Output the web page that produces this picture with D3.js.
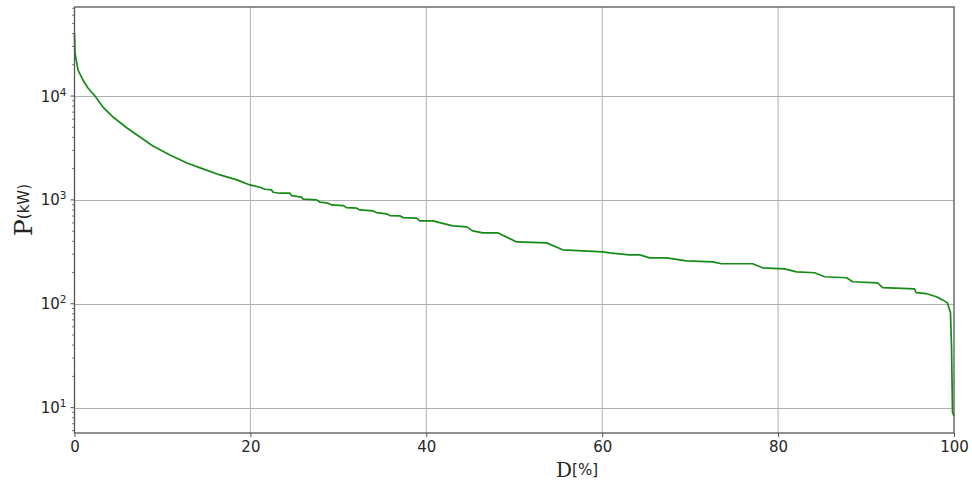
<!DOCTYPE html>
<html>
<head>
<meta charset="utf-8">
<script src="https://cdn.jsdelivr.net/npm/d3@7/dist/d3.min.js"></script>
<style>
  html, body { margin: 0; padding: 0; background: #fff; }
  svg { display: block; }
</style>
</head>
<body>
<svg id="chart" width="972" height="487"></svg>
<script>
// ---- data ----
const durationPct = [0, 0.06, 0.4, 0.97, 1.53, 2.33, 3.24, 4.38, 5.97, 7.44, 8.92, 10.85, 12.78, 14.6, 16.53, 18.47,
  19.94, 21.08, 21.65, 22.41, 22.59, 23.35, 24.49, 24.68, 25.82, 26.0, 27.52, 27.9, 28.84, 29.23, 30.55, 30.93,
  32.07, 32.44, 33.95, 34.34, 35.48, 35.85, 36.99, 37.36, 38.89, 39.26, 40.77, 41.53,
  43.01, 44.6, 45.28, 46.42, 48.1,
  50.28, 53.69, 55.5, 57.78, 60.06, 60.85, 63.1, 64.26, 65.4, 67.3, 69.6, 72.56, 73.58, 77.1, 78.24, 80.74, 82.1, 84.15,
  85.28, 87.78, 88.47, 91.3, 91.9, 95.5, 95.7, 96.9, 98.0, 98.7, 99.26, 99.6, 99.72, 99.83, 100];
const powerKW = [40400, 25900, 17800, 14250, 11940, 10000, 7840, 6280, 4920, 4030, 3300, 2710, 2270, 1990, 1740, 1560,
  1394, 1325, 1267, 1248, 1186, 1160, 1160, 1100, 1062, 1016, 1000, 951, 930, 895, 882, 843,
  832, 801, 784, 755, 734, 706, 702, 676, 667, 628, 628, 605,
  562, 550, 503, 482, 482,
  394, 386, 331, 323, 316, 309, 296, 296, 277, 277, 259, 253, 243, 243, 222, 217, 203, 199,
  182, 178, 163, 159, 143, 139, 128, 125, 117, 109, 102, 82, 38.6, 9.0, 8.3];
const xTicks = [0, 20, 40, 60, 80, 100];
const yTicks = [10, 100, 1000, 10000];
const yTickExp = ["1", "2", "3", "4"];

// ---- layout ----
const svg = d3.select("#chart");
const pL = 74.5, pR = 954, pT = 7, pB = 433;
const x = d3.scaleLinear().domain([0, 100]).range([pL, pR]);
const y = d3.scaleLog().domain([5.7, 72000]).range([pB, pT]);

const axisColor = "#555";
const gridColor = "#b0b0b0";
const textColor = "#262626";

// grid
const grid = svg.append("g");
grid.selectAll("line.gx").data(xTicks.filter(d => d > 0 && d < 100)).join("line")
  .attr("x1", d => x(d)).attr("x2", d => x(d)).attr("y1", pT).attr("y2", pB)
  .attr("stroke", gridColor).attr("stroke-width", 1);
grid.selectAll("line.gy").data(yTicks).join("line")
  .attr("x1", pL).attr("x2", pR).attr("y1", d => Math.round(y(d)) + 0.5).attr("y2", d => Math.round(y(d)) + 0.5)
  .attr("stroke", gridColor).attr("stroke-width", 1);

// line
const data = durationPct.map((d, i) => [d, powerKW[i]]);
svg.append("path").datum(data)
  .attr("fill", "none").attr("stroke", "#168a16").attr("stroke-width", 1.7)
  .attr("stroke-linejoin", "round")
  .attr("d", d3.line().x(d => x(d[0])).y(d => y(d[1])));

// x axis
const xAxis = d3.axisBottom(x).tickValues(xTicks).tickSize(4).tickPadding(4).tickFormat(d3.format("d"));
const gx = svg.append("g").attr("transform", `translate(0,${pB})`).call(xAxis);
gx.select(".domain").remove();
gx.selectAll(".tick line").attr("stroke", axisColor).attr("stroke-width", 1);
gx.selectAll(".tick text").attr("fill", textColor).style("font-family", "DejaVu Sans").style("font-size", "15px");

// y axis (log, major + minor)
const minor = [];
for (let e = 0; e <= 4; e++) for (let m = 2; m <= 9; m++) {
  const v = m * Math.pow(10, e);
  if (v >= 5.7 && v <= 72000) minor.push(v);
}
const gy = svg.append("g");
gy.selectAll("line.minor").data(minor).join("line")
  .attr("x1", pL - 2.5).attr("x2", pL).attr("y1", d => y(d)).attr("y2", d => y(d))
  .attr("stroke", axisColor).attr("stroke-width", 0.8);
gy.selectAll("line.major").data(yTicks).join("line")
  .attr("x1", pL - 4).attr("x2", pL).attr("y1", d => y(d)).attr("y2", d => y(d))
  .attr("stroke", axisColor).attr("stroke-width", 1);
const yl = gy.selectAll("text.ylab").data(yTicks).join("text")
  .attr("x", pL - 8).attr("y", d => y(d) + 5.5)
  .attr("text-anchor", "end").attr("fill", textColor)
  .style("font-family", "DejaVu Sans").style("font-size", "15px");
yl.append("tspan").text("10");
yl.append("tspan").attr("dy", -6).style("font-size", "10.5px").text((d, i) => yTickExp[i]);

// frame
svg.append("rect").attr("x", pL).attr("y", pT).attr("width", pR - pL).attr("height", pB - pT)
  .attr("fill", "none").attr("stroke", axisColor).attr("stroke-width", 1.3);

// axis labels
const xl = svg.append("text").attr("x", 577).attr("y", 477).attr("text-anchor", "middle").attr("fill", textColor);
xl.append("tspan").style("font-family", "DejaVu Serif").style("font-size", "20px").text("D");
xl.append("tspan").attr("dy", -2).style("font-family", "DejaVu Sans").style("font-size", "15px").text("[%]");

const ylab = svg.append("text").attr("transform", "translate(32,210) rotate(-90)")
  .attr("text-anchor", "middle").attr("fill", textColor);
ylab.append("tspan").style("font-family", "DejaVu Serif").style("font-size", "25px").text("P");
ylab.append("tspan").attr("dy", -3).style("font-family", "DejaVu Sans").style("font-size", "15px").text("(kW)");
</script>
</body>
</html>
